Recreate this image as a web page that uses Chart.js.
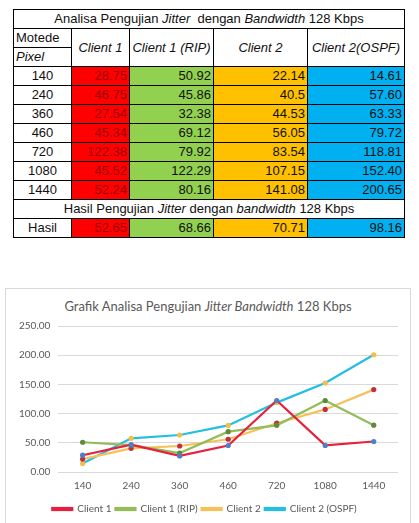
<!DOCTYPE html>
<html>
<head>
<meta charset="utf-8">
<script src="https://cdn.jsdelivr.net/npm/chart.js@4.4.1/dist/chart.umd.min.js"></script>
<style>
    body { margin: 0; background: #fff; font-family: "Liberation Sans", Arial, sans-serif; }
    #tbl {
        position: absolute; left: 13px; top: 9px; width: 391px;
        border-collapse: collapse; table-layout: fixed; font-size: 13px; color: #111;
    }
    #tbl td { border: 1px solid #000; padding: 0 2px; height: 18px; line-height: 16px; white-space: nowrap; overflow: hidden; }
    #tbl .c { text-align: center; }
    #tbl .r { text-align: right; }
    #tbl .lft { text-align: left; }
    #tbl i { font-style: italic; }
    .red { background: #ff0000; color: #9a0000; }
    .grn { background: #92d050; }
    .org { background: #ffc000; }
    .blu { background: #00b0f0; }
    #box {
        position: absolute; left: 5px; top: 288px; width: 406px; height: 240px;
        border: 1px solid #d9d9d9; box-sizing: border-box;
    }
    #ttl {
        position: absolute; left: 0; right: 0; top: 9px; text-align: center;
        font-family: Lato, "Open Sans", sans-serif; font-size: 13px; color: #595959;
    }
    #cv { position: absolute; left: 0; top: 0; }
</style>
</head>
<body>
<table id="tbl">
    <colgroup><col style="width:58px"><col style="width:58px"><col style="width:84px"><col style="width:94px"><col style="width:97px"></colgroup>
    <tr><td class="c" colspan="5">Analisa Pengujian <i>Jitter</i>&nbsp; dengan <i>Bandwidth</i> 128 Kbps</td></tr>
    <tr><td class="lft">Motede</td><td class="c" rowspan="2"><i>Client 1</i></td><td class="c" rowspan="2"><i>Client 1 (RIP)</i></td><td class="c" rowspan="2"><i>Client 2</i></td><td class="c" rowspan="2"><i>Client 2(OSPF)</i></td></tr>
    <tr><td class="lft"><i>Pixel</i></td></tr>
    <tbody id="rows"></tbody>
    <tr><td class="c" colspan="5">Hasil Pengujian <i>Jitter</i> dengan <i>bandwidth</i> 128 Kbps</td></tr>
    <tr id="hasil"></tr>
</table>

<div id="box">
    <div id="ttl">Grafik Analisa Pengujian <i>Jitter Bandwidth</i> 128 Kbps</div>
    <canvas id="cv" width="404" height="238"></canvas>
</div>

<script>
const pixels = ['140', '240', '360', '460', '720', '1080', '1440'];
const client1 = [28.75, 46.75, 27.54, 45.34, 122.38, 45.52, 52.24];
const client1Rip = [50.92, 45.86, 32.38, 69.12, 79.92, 122.29, 80.16];
const client2 = [22.14, 40.5, 44.53, 56.05, 83.54, 107.15, 141.08];
const client2Ospf = [14.61, 57.60, 63.33, 79.72, 118.81, 152.40, 200.65];
const hasil = [52.65, 68.66, 70.71, 98.16];
const yTicks = [0, 50, 100, 150, 200, 250];

const fmt = v => v.toFixed(2);

function fillTable()
{
    const body = document.getElementById('rows');
    pixels.forEach((p, i) => {
        const tr = document.createElement('tr');
        tr.innerHTML =
            '<td class="c">' + p + '</td>' +
            '<td class="r red">' + fmt(client1[i]) + '</td>' +
            '<td class="r grn">' + fmt(client1Rip[i]) + '</td>' +
            // the source table shows 40.5 without padding
            '<td class="r org">' + (client2[i] === 40.5 ? '40.5' : fmt(client2[i])) + '</td>' +
            '<td class="r blu">' + fmt(client2Ospf[i]) + '</td>';
        body.appendChild(tr);
    });
    document.getElementById('hasil').innerHTML =
        '<td class="c">Hasil</td>' +
        '<td class="r red">' + fmt(hasil[0]) + '</td>' +
        '<td class="r grn">' + fmt(hasil[1]) + '</td>' +
        '<td class="r org">' + fmt(hasil[2]) + '</td>' +
        '<td class="r blu">' + fmt(hasil[3]) + '</td>';
}

function series(label, data, line, marker)
{
    return {
        label: label,
        data: data,
        borderColor: line,
        backgroundColor: line,
        pointBackgroundColor: marker,
        pointBorderColor: marker,
        pointBorderWidth: 0,
        borderWidth: 2.2,
        pointRadius: 2.6
    };
}

function loadChart()
{
    const chartData = {
        labels: pixels,
        datasets: [
            series('Client 1', client1, '#e8203e', '#4f7fc8'),
            series('Client 1 (RIP)', client1Rip, '#93bd58', '#5f8a3a'),
            series('Client 2', client2, '#f7c15a', '#c0303a'),
            series('Client 2 (OSPF)', client2Ospf, '#22bfe3', '#f5bd4a')
        ]
    };

    const tickFont = { family: 'Lato, "Open Sans", sans-serif', size: 10 };

    const config = {
        type: 'line',
        data: chartData,
        options: {
            responsive: false,
            animation: false,
            layout: {
                padding: { top: 37, left: 5, right: 12, bottom: 3 }
            },
            plugins: {
                title: { display: false },
                tooltip: { enabled: false },
                legend: {
                    position: 'bottom',
                    labels: {
                        font: tickFont,
                        color: '#595959',
                        boxWidth: 20,
                        boxHeight: 2,
                        padding: 4
                    }
                }
            },
            scales: {
                x: {
                    offset: true,
                    grid: { display: false, drawTicks: false },
                    border: { display: false },
                    ticks: { font: tickFont, color: '#595959', padding: 8 }
                },
                y: {
                    min: 0,
                    max: 250,
                    afterBuildTicks: axis => { axis.ticks = yTicks.map(v => ({ value: v })); },
                    grid: { color: '#d9d9d9', drawTicks: false },
                    border: { display: false },
                    ticks: {
                        font: tickFont,
                        color: '#595959',
                        padding: 8,
                        callback: v => v.toFixed(2)
                    }
                }
            }
        }
    };

    const ctx = document.getElementById('cv').getContext('2d');

    if (ctx) {
        new Chart(ctx, config);
    }
}

fillTable();
loadChart();
</script>
</body>
</html>
